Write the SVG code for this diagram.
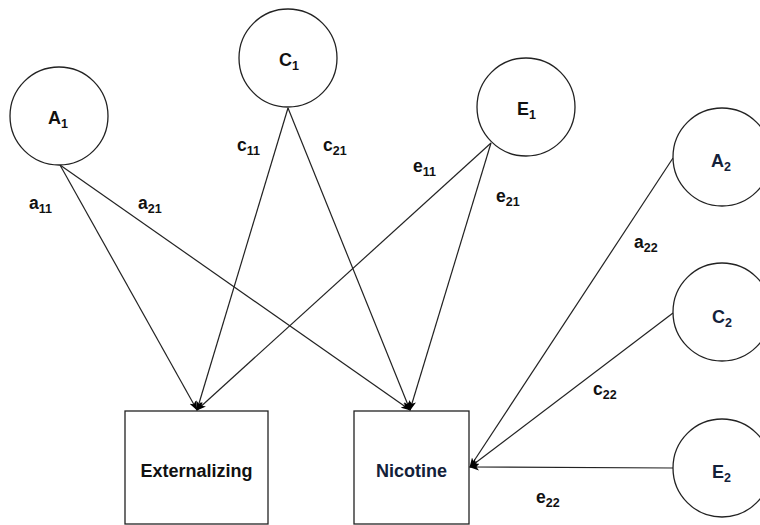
<svg xmlns="http://www.w3.org/2000/svg" width="760" height="525" viewBox="0 0 760 525">
<style>
.n{fill:#fff;stroke:#222;stroke-width:1.3}
.t{font-family:"Liberation Sans",Arial,sans-serif;font-weight:bold;font-size:17.5px;fill:#111}
.big{font-size:18px}
.b{fill:#13213a}
.s{font-size:12.5px}
.c line{stroke:#222;stroke-width:1.2;marker-end:url(#ah)}
</style>
<defs>
<marker id="ah" markerUnits="userSpaceOnUse" markerWidth="10" markerHeight="8" refX="9" refY="4" orient="auto" viewBox="0 0 10 8">
<path d="M0,0.5 L10,4 L0,7.5 L2.5,4 Z" fill="#000"/>
</marker>
</defs>
<rect width="760" height="525" fill="#fff"/>
<g id="connectors" class="c">
<line x1="60" y1="165" x2="197" y2="410"/>
<line x1="60" y1="165" x2="410" y2="410"/>
<line x1="288" y1="108" x2="197" y2="410"/>
<line x1="288" y1="108" x2="410" y2="410"/>
<line x1="491" y1="143" x2="197" y2="410"/>
<line x1="491" y1="143" x2="410" y2="410"/>
<line x1="673" y1="158" x2="470" y2="467"/>
<line x1="673" y1="313" x2="470" y2="467"/>
<line x1="673" y1="468" x2="470" y2="467"/>
</g>
<g id="A1"><circle class="n" cx="59" cy="116" r="49"/><text class="t big" x="48" y="124">A<tspan class="s" dy="4">1</tspan></text></g>
<g id="C1"><circle class="n" cx="288" cy="58" r="49"/><text class="t big" x="279" y="66">C<tspan class="s" dy="4">1</tspan></text></g>
<g id="E1"><circle class="n" cx="526" cy="107" r="49"/><text class="t big" x="517" y="115">E<tspan class="s" dy="4">1</tspan></text></g>
<g id="A2"><circle class="n" cx="722" cy="157" r="49"/><text class="t big b" x="711" y="167">A<tspan class="s" dy="4">2</tspan></text></g>
<g id="C2"><circle class="n" cx="722" cy="312" r="49"/><text class="t big b" x="712" y="323">C<tspan class="s" dy="4">2</tspan></text></g>
<g id="E2"><circle class="n" cx="722" cy="468" r="49"/><text class="t big b" x="712" y="478">E<tspan class="s" dy="4">2</tspan></text></g>
<g id="Externalizing"><rect class="n" x="125" y="411" width="143" height="113"/><text class="t big" x="196.5" y="477" text-anchor="middle">Externalizing</text></g>
<g id="Nicotine"><rect class="n" x="354" y="411" width="115" height="113"/><text class="t big b" x="411.5" y="477" text-anchor="middle">Nicotine</text></g>
<g id="labels">
<text class="t" x="29" y="209">a<tspan class="s" dy="4">11</tspan></text>
<text class="t" x="138" y="209">a<tspan class="s" dy="4">21</tspan></text>
<text class="t" x="237" y="151">c<tspan class="s" dy="4">11</tspan></text>
<text class="t" x="323" y="151">c<tspan class="s" dy="4">21</tspan></text>
<text class="t" x="413" y="172">e<tspan class="s" dy="4">11</tspan></text>
<text class="t" x="496" y="202">e<tspan class="s" dy="4">21</tspan></text>
<text class="t" x="634" y="248">a<tspan class="s" dy="4">22</tspan></text>
<text class="t" x="593" y="395">c<tspan class="s" dy="4">22</tspan></text>
<text class="t" x="536" y="503">e<tspan class="s" dy="4">22</tspan></text>
</g>
</svg>
